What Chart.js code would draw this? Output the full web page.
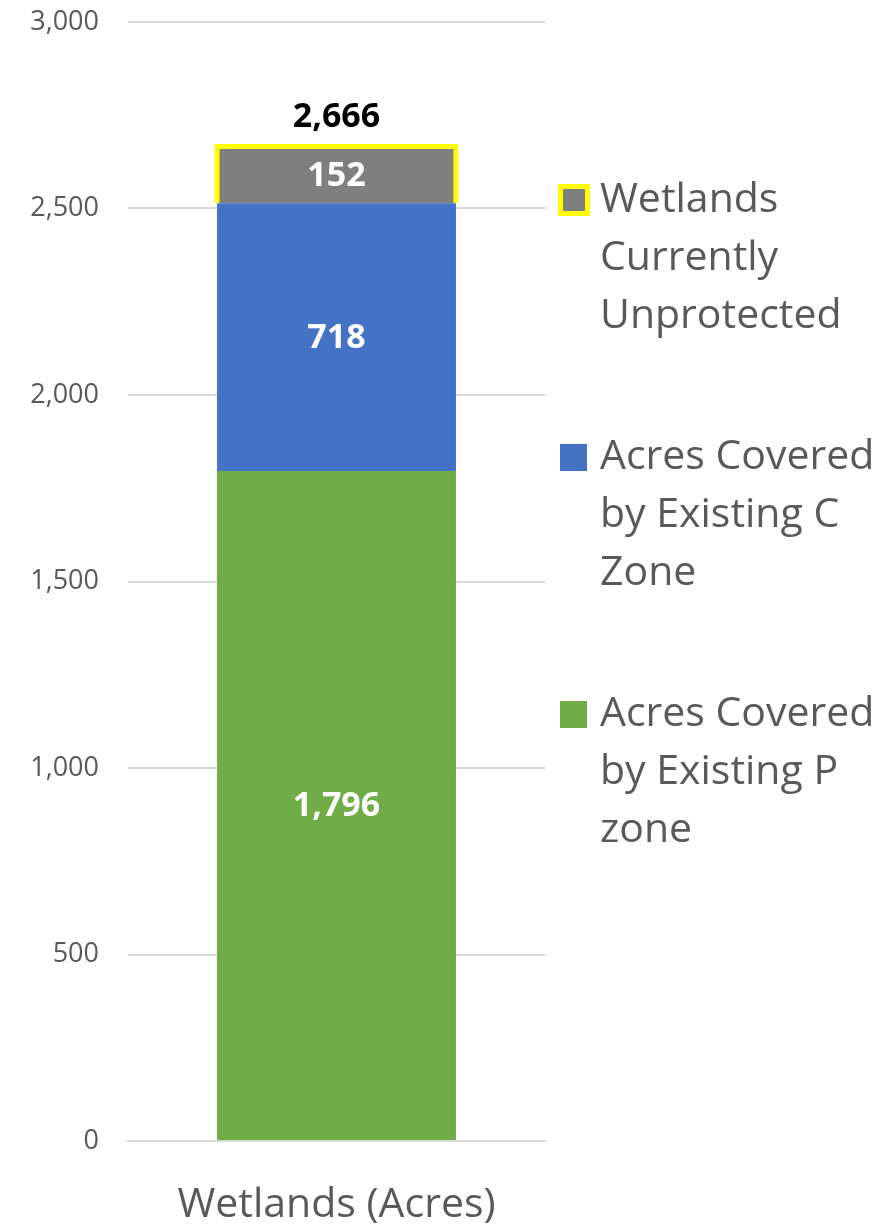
<!DOCTYPE html>
<html>
<head>
<meta charset="utf-8">
<script src="https://cdn.jsdelivr.net/npm/chart.js@4"></script>
<style>
  html, body { margin: 0; padding: 0; background: #fff; }
  #wrap { width: 884px; height: 1232px; }
</style>
</head>
<body>
<div id="wrap"><canvas id="myChart"></canvas></div>
<script>
const categories = ['Wetlands (Acres)'];
const pZone = [1796];
const cZone = [718];
const unprotected = [152];
const seriesNames = ['Acres Covered by Existing P zone', 'Acres Covered by Existing C Zone', 'Wetlands Currently Unprotected'];
const legendLines = [
  ['Acres Covered', 'by Existing P', 'zone'],
  ['Acres Covered', 'by Existing C', 'Zone'],
  ['Wetlands', 'Currently', 'Unprotected']
];
const yMax = 3000;
const yStep = 500;

const fmt = v => v.toLocaleString('en-US');
const FONT = '"Open Sans", "Noto Sans", sans-serif';

// value labels inside segments + total on top
const barLabels = {
  id: 'barLabels',
  afterDatasetsDraw(chart) {
    const ctx = chart.ctx;
    ctx.save();
    ctx.font = 'bold 34px ' + FONT;
    ctx.textAlign = 'center';
    ctx.textBaseline = 'middle';
    chart.data.datasets.forEach((ds, i) => {
      chart.getDatasetMeta(i).data.forEach((bar, j) => {
        const c = bar.getCenterPoint();
        ctx.fillStyle = '#ffffff';
        ctx.fillText(fmt(ds.data[j]), c.x, c.y + 1);
      });
    });
    categories.forEach((cat, j) => {
      const total = chart.data.datasets.reduce((s, ds) => s + ds.data[j], 0);
      const x = chart.scales.x.getPixelForValue(j);
      const y = chart.scales.y.getPixelForValue(total);
      ctx.fillStyle = '#000000';
      ctx.fillText(fmt(total), x, y - 29);
    });
    ctx.restore();
  }
};

// legend on the right, wrapped text, reversed order
const sideLegend = {
  id: 'sideLegend',
  afterDraw(chart) {
    const ctx = chart.ctx;
    const x0 = chart.chartArea.right + 15;
    let y = 200;
    ctx.save();
    ctx.font = '41px ' + FONT;
    ctx.textBaseline = 'middle';
    ctx.textAlign = 'left';
    for (let i = chart.data.datasets.length - 1; i >= 0; i--) {
      const ds = chart.data.datasets[i];
      if (ds.borderWidth) {
        ctx.fillStyle = ds.borderColor;
        ctx.fillRect(x0 - 2, y - 16, 32, 32);
        ctx.fillStyle = ds.backgroundColor;
        ctx.fillRect(x0 + 3, y - 11, 22, 22);
      } else {
        ctx.fillStyle = ds.backgroundColor;
        ctx.fillRect(x0, y - 13, 27, 27);
      }
      ctx.fillStyle = '#595959';
      legendLines[i].forEach((line, k) => {
        ctx.fillText(line, x0 + 40, y + k * 58);
      });
      y += 257;
    }
    ctx.restore();
  }
};

const ctx = document.getElementById('myChart');

new Chart(ctx, {
  type: 'bar',
  data: {
    labels: categories,
    datasets: [
      { label: seriesNames[0], data: pZone, backgroundColor: '#70AD47', borderWidth: 0 },
      { label: seriesNames[1], data: cZone, backgroundColor: '#4472C4', borderWidth: 0 },
      { label: seriesNames[2], data: unprotected, backgroundColor: '#7F7F7F',
        borderColor: '#FFFF00', borderWidth: 5, inflateAmount: 2.5 }
    ]
  },
  options: {
    responsive: true,
    maintainAspectRatio: false,
    animation: false,
    layout: { padding: { top: 22, right: 339, bottom: 0, left: 0 } },
    datasets: {
      bar: { categoryPercentage: 1, barPercentage: 0.573 }
    },
    plugins: {
      legend: { display: false },
      tooltip: { enabled: false }
    },
    scales: {
      x: {
        stacked: true,
        afterFit: s => { s.height = 91; },
        grid: { display: false, drawTicks: false },
        border: { display: true, color: '#D9D9D9', width: 2 },
        ticks: { color: '#595959', font: { family: FONT, size: 41 }, padding: 40, maxRotation: 0, autoSkip: false }
      },
      y: {
        stacked: true,
        min: 0,
        max: yMax,
        afterFit: s => { s.width = 128; s.paddingTop = 0; s.paddingBottom = 0; },
        grid: { color: '#D9D9D9', lineWidth: 2, drawTicks: false },
        border: { display: false },
        ticks: {
          stepSize: yStep,
          padding: 29,
          color: '#595959',
          font: { family: FONT, size: 27 },
          callback: v => fmt(v)
        }
      }
    }
  },
  plugins: [barLabels, sideLegend]
});
</script>
</body>
</html>
